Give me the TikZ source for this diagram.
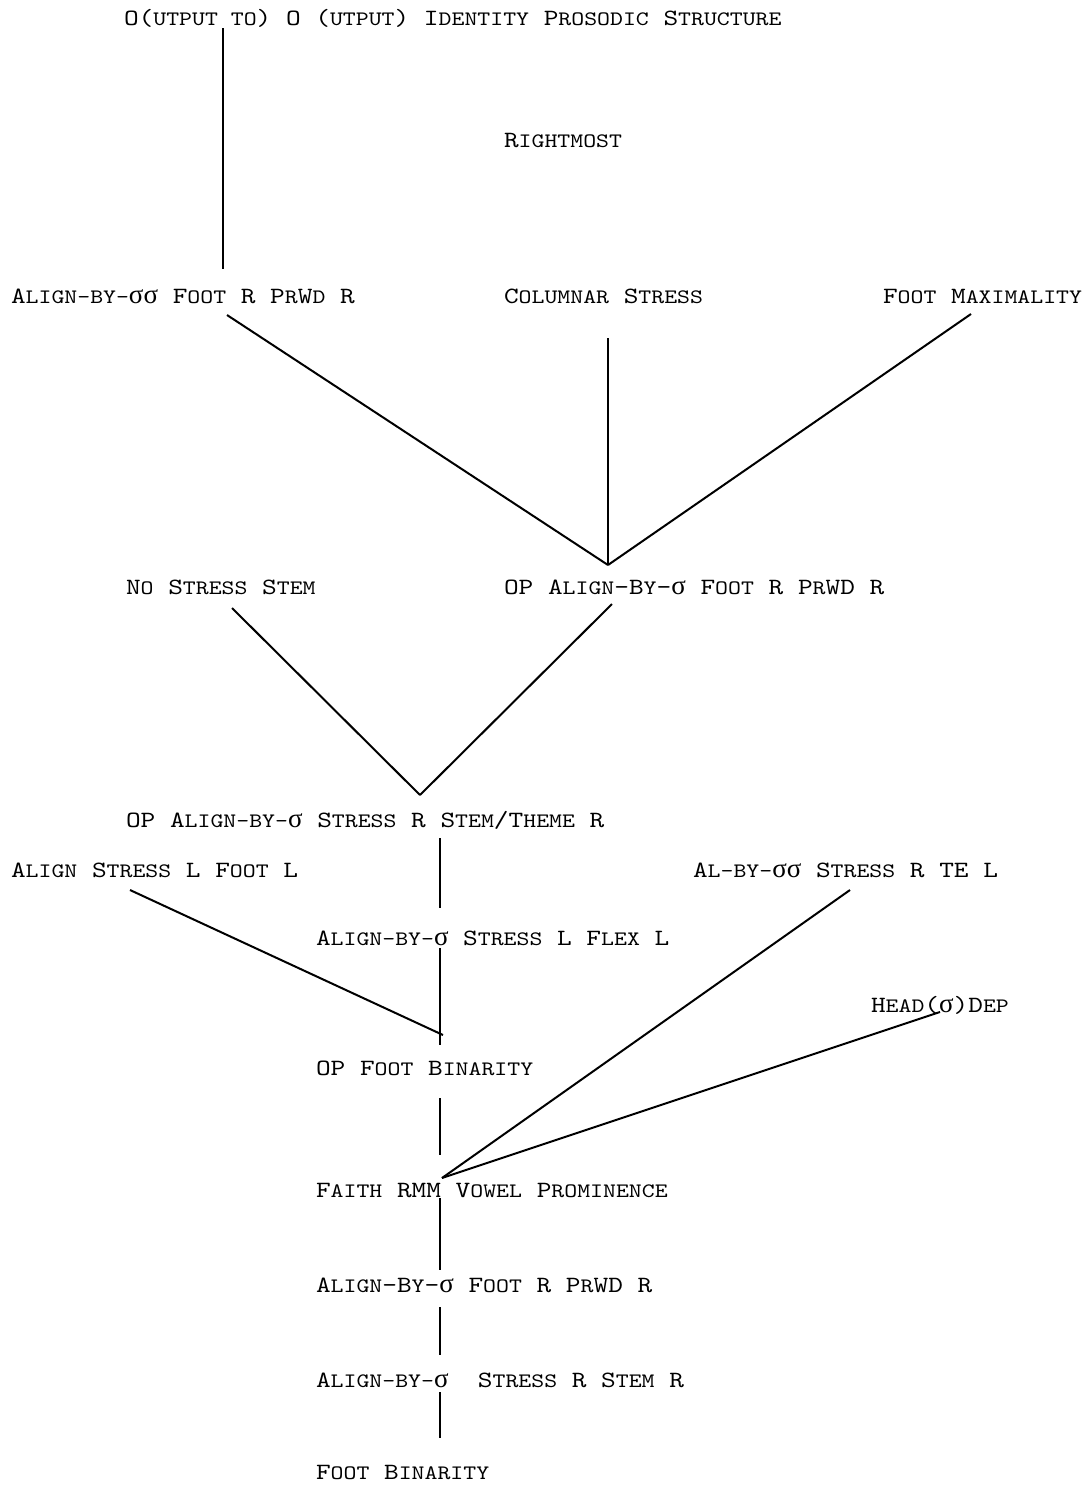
\documentclass[tikz,border=0pt]{standalone}
\usepackage{fontspec}
\setmonofont{lmmono10-regular.otf}[FakeStretch=1.2]
\newfontfamily\grk{Liberation Serif}
\newcommand{\sm}[1]{{\fontsize{10.25}{12}\selectfont #1}}
\newcommand{\sig}{{\grk\fontsize{13.5}{14}\selectfont σ}}
\begin{document}
\begin{tikzpicture}[x=0.5pt,y=-0.5pt,line width=1pt,
  lbl/.style={anchor=base west,inner sep=0pt,font=\ttfamily\fontsize{11.65}{14}\selectfont}]
\useasboundingbox (0,0) rectangle (1090,1485);
\node[lbl] (oo) at (123,25) {O(\sm{UTPUT TO}) O (\sm{UTPUT}) I\sm{DENTITY} P\sm{ROSODIC} S\sm{TRUCTURE}};
\node[lbl] (right) at (503,147) {R\sm{IGHTMOST}};
\node[lbl] (abss) at (10,303) {A\sm{LIGN-BY-}\sig\sig{} F\sm{OOT} R P\sm{R}W\sm{D} R};
\node[lbl] (colstr) at (503,303) {C\sm{OLUMNAR} S\sm{TRESS}};
\node[lbl] (footmax) at (882,303) {F\sm{OOT} M\sm{AXIMALITY}};
\node[lbl] (nostress) at (125,594) {N\sm{O} S\sm{TRESS} S\sm{TEM}};
\node[lbl] (opalign) at (503,594) {OP A\sm{LIGN}-B\sm{Y}-\sig{} F\sm{OOT} R P\sm{R}WD R};
\node[lbl] (opstress) at (125,827) {OP A\sm{LIGN-BY-}\sig{} S\sm{TRESS} R S\sm{TEM}/T\sm{HEME} R};
\node[lbl] (alstress) at (10,877) {A\sm{LIGN} S\sm{TRESS} L F\sm{OOT} L};
\node[lbl] (albyss) at (692,877) {A\sm{L-BY-}\sig\sig{} S\sm{TRESS} R TE L};
\node[lbl] (flex) at (315,945) {A\sm{LIGN-BY-}\sig{} S\sm{TRESS} L F\sm{LEX} L};
\node[lbl] (headdep) at (870,1012) {H\sm{EAD}(\sig)D\sm{EP}};
\node[lbl] (opfoot) at (315,1075) {OP F\sm{OOT} B\sm{INARITY}};
\node[lbl] (faith) at (315,1197) {F\sm{AITH} RMM V\sm{OWEL} P\sm{ROMINENCE}};
\node[lbl] (abfoot) at (315,1292) {A\sm{LIGN}-B\sm{Y}-\sig{} F\sm{OOT} R P\sm{R}WD R};
\node[lbl] (abstress) at (315,1387) {A\sm{LIGN-BY-}\sig\ \ S\sm{TRESS} R S\sm{TEM} R};
\node[lbl] (footbin) at (315,1479) {F\sm{OOT} B\sm{INARITY}};
% line ends
\coordinate (oo-s) at (223,28);
\coordinate (abss-n) at (223,269);
\coordinate (abss-s) at (227,315);
\coordinate (colstr-s) at (608,338);
\coordinate (footmax-s) at (971,314);
\coordinate (opalign-n) at (608,565);
\coordinate (nostress-s) at (232,608);
\coordinate (opalign-s) at (612,604);
\coordinate (opstress-n) at (420,795);
\coordinate (opstress-s) at (440,838);
\coordinate (flex-n) at (440,908);
\coordinate (alstress-s) at (130,890);
\coordinate (flex-s) at (440,948);
\coordinate (opfoot-n) at (440,1045);
\coordinate (opfoot-a) at (443,1035);
\coordinate (opfoot-s) at (440,1098);
\coordinate (faith-n) at (440,1155);
\coordinate (albyss-s) at (850,890);
\coordinate (headdep-s) at (940,1012);
\coordinate (faith-j) at (442,1178);
\coordinate (faith-s) at (440,1198);
\coordinate (abfoot-n) at (440,1270);
\coordinate (abfoot-s) at (440,1307);
\coordinate (abstress-n) at (440,1355);
\coordinate (abstress-s) at (440,1392);
\coordinate (footbin-n) at (440,1438);
\draw (oo-s) to (abss-n);
\draw (abss-s) to (opalign-n);
\draw (colstr-s) to (opalign-n);
\draw (footmax-s) to (opalign-n);
\draw (nostress-s) to (opstress-n);
\draw (opalign-s) to (opstress-n);
\draw (opstress-s) to (flex-n);
\draw (alstress-s) to (opfoot-a);
\draw (flex-s) to (opfoot-n);
\draw (opfoot-s) to (faith-n);
\draw (albyss-s) to (faith-j);
\draw (headdep-s) to (faith-j);
\draw (faith-s) to (abfoot-n);
\draw (abfoot-s) to (abstress-n);
\draw (abstress-s) to (footbin-n);
\end{tikzpicture}
\end{document}
